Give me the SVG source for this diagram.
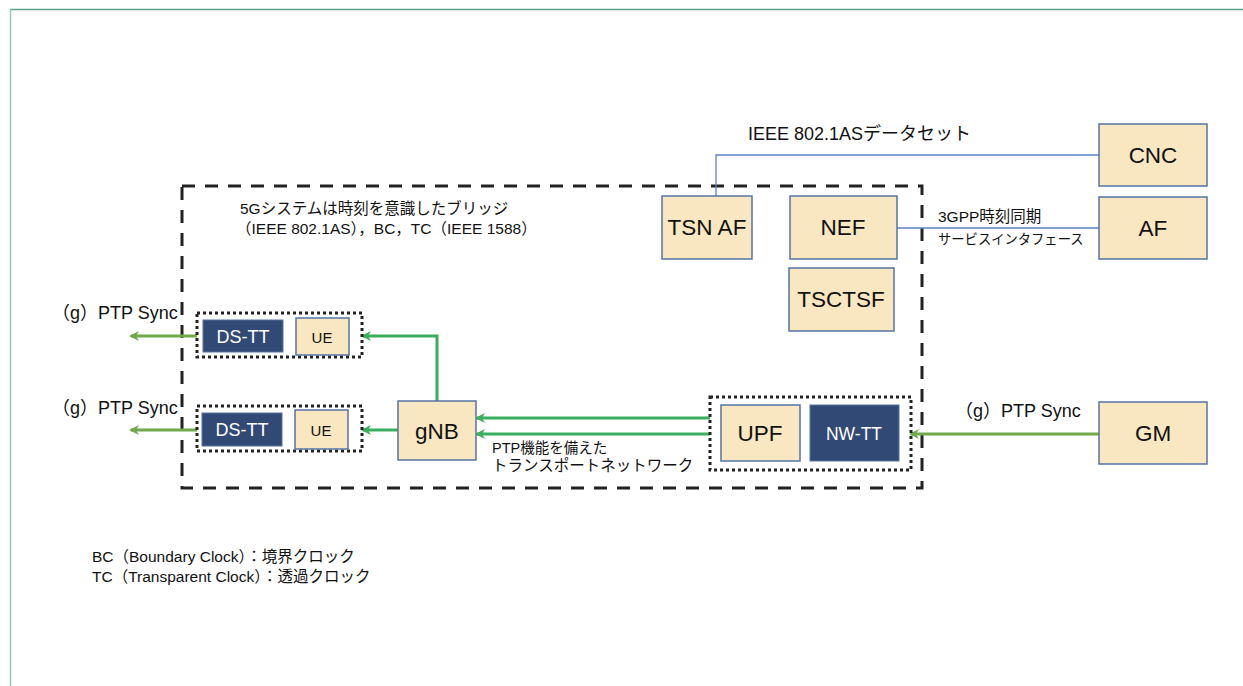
<svg xmlns="http://www.w3.org/2000/svg" width="1243" height="686" viewBox="0 0 1243 686">
<defs>
<style>
text{font-family:"Liberation Sans","Noto Sans CJK JP",sans-serif;fill:#111}
.box{fill:#f9e7c2;stroke:#5673a6;stroke-width:1.5}
.dark{fill:#304a75;stroke:#5673a6;stroke-width:1}
.big{font-size:22.5px;text-anchor:middle}
.wt{fill:#fff;text-anchor:middle}
.dot{fill:none;stroke:#222;stroke-width:3;stroke-dasharray:3 3}
.g{fill:none;stroke:#3aae5c;stroke-width:3}
.o{fill:none;stroke:#71a84a;stroke-width:3}
.b{fill:none;stroke:#5b82c4;stroke-width:1.3}
</style>
<marker id="ag" markerWidth="10" markerHeight="10" refX="8" refY="5" orient="auto" markerUnits="userSpaceOnUse" viewBox="0 0 10 10"><path d="M10,5 L0,0 L3,5 L0,10 Z" fill="#3aae5c"/></marker>
<marker id="ao" markerWidth="10" markerHeight="10" refX="8" refY="5" orient="auto" markerUnits="userSpaceOnUse" viewBox="0 0 10 10"><path d="M10,5 L0,0 L3,5 L0,10 Z" fill="#71a84a"/></marker>
</defs>
<rect width="1243" height="686" fill="#fff"/>
<g id="frame">
<line x1="10" y1="9.5" x2="1243" y2="9.5" stroke="#5a9e8a" stroke-width="1.5"/>
<line x1="10.5" y1="9" x2="10.5" y2="686" stroke="#8fcbc0" stroke-width="1.5"/>
</g>
<g id="system-boundary">
<rect x="182" y="186" width="740" height="302" fill="none" stroke="#222" stroke-width="3" stroke-dasharray="13 10"/>
<text x="240" y="214" style="font-size:15.5px">5Gシステムは時刻を意識したブリッジ</text>
<text x="236" y="234" style="font-size:15.5px">（IEEE 802.1AS），BC，TC（IEEE 1588）</text>
</g>
<g id="connectors">
<path class="b" d="M716,196 V155 H1099"/>
<path class="b" d="M897,228 H1099"/>
<path class="g" d="M437,401 V336 H363" marker-end="url(#ag)"/>
<path class="g" d="M398,430 H363" marker-end="url(#ag)"/>
<path class="g" d="M710,418 H477" marker-end="url(#ag)"/>
<path class="g" d="M710,434 H477" marker-end="url(#ag)"/>
<path class="o" d="M197,336 H131" marker-end="url(#ao)"/>
<path class="o" d="M197,430 H131" marker-end="url(#ao)"/>
<path class="o" d="M1099,434 H911" marker-end="url(#ao)"/>
<text x="748" y="140" style="font-size:18px">IEEE 802.1ASデータセット</text>
<text x="938" y="222" style="font-size:15.5px">3GPP時刻同期</text>
<text x="938" y="244" style="font-size:13.3px">サービスインタフェース</text>
<text x="52" y="319" style="font-size:18px">（g）PTP Sync</text>
<text x="52" y="414" style="font-size:18px">（g）PTP Sync</text>
<text x="955" y="417" style="font-size:18px">（g）PTP Sync</text>
<text x="492" y="453" style="font-size:14.5px">PTP機能を備えた</text>
<text x="492" y="471" style="font-size:15.5px">トランスポートネットワーク</text>
</g>
<g id="cnc"><rect class="box" x="1099" y="124" width="108" height="62"/><text class="big" x="1153" y="163">CNC</text></g>
<g id="af"><rect class="box" x="1099" y="197" width="108" height="62"/><text class="big" x="1153" y="236">AF</text></g>
<g id="gm"><rect class="box" x="1099" y="402" width="108" height="62"/><text class="big" x="1153" y="441">GM</text></g>
<g id="tsnaf"><rect class="box" x="662" y="196" width="90" height="63"/><text class="big" x="707" y="235">TSN AF</text></g>
<g id="nef"><rect class="box" x="790" y="196" width="107" height="63"/><text class="big" x="843" y="235">NEF</text></g>
<g id="tsctsf"><rect class="box" x="789" y="268" width="105" height="63"/><text class="big" x="841" y="307">TSCTSF</text></g>
<g id="ue-group-1">
<rect class="dot" x="197" y="313" width="165" height="44"/>
<rect class="dark" x="203" y="320" width="80" height="32"/><text class="wt" x="243" y="343" style="font-size:18px">DS-TT</text>
<rect class="box" x="296" y="318" width="53" height="37"/><text x="322" y="343" style="font-size:15px;text-anchor:middle">UE</text>
</g>
<g id="ue-group-2">
<rect class="dot" x="197" y="406" width="165" height="45"/>
<rect class="dark" x="202" y="413" width="80" height="33"/><text class="wt" x="242" y="436" style="font-size:18px">DS-TT</text>
<rect class="box" x="295" y="410" width="53" height="39"/><text x="321" y="436" style="font-size:15px;text-anchor:middle">UE</text>
</g>
<g id="gnb"><rect class="box" x="398" y="401" width="78" height="59"/><text class="big" x="437" y="439">gNB</text></g>
<g id="upf-group">
<rect class="dot" x="710" y="397" width="201" height="73"/>
<rect class="box" x="721" y="405" width="79" height="56"/><text class="big" x="760" y="441">UPF</text>
<rect class="dark" x="810" y="405" width="89" height="56"/><text class="wt" x="854" y="440" style="font-size:17.5px">NW-TT</text>
</g>
<g id="legend">
<text x="92" y="562" style="font-size:15.5px">BC（Boundary Clock）：境界クロック</text>
<text x="92" y="582" style="font-size:15.5px">TC（Transparent Clock）：透過クロック</text>
</g>
</svg>
